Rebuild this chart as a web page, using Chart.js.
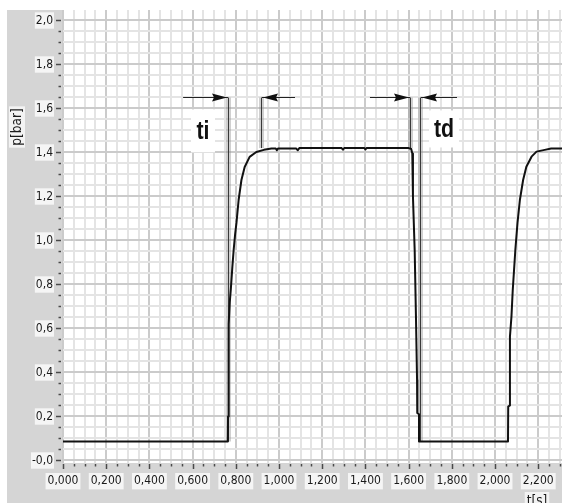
<!DOCTYPE html>
<html>
<head>
<meta charset="utf-8">
<script src="https://cdn.jsdelivr.net/npm/chart.js@4/dist/chart.umd.min.js"></script>
<style>
  html, body { margin: 0; padding: 0; background: #fff; overflow: hidden; }
  canvas { display: block; }
</style>
</head>
<body>
<canvas id="c" width="562" height="503"></canvas>
<script>
// Pressure trace p(t): inflation, plateau, deflation, second inflation
const timeS = [
  0.000, 0.763, 0.764, 0.766, 0.768, 0.772, 0.777, 0.784, 0.790, 0.797,
  0.803, 0.813, 0.826, 0.841, 0.864, 0.895, 0.930, 0.965, 0.985, 0.990,
  0.995, 1.080, 1.087, 1.094, 1.290, 1.296, 1.302, 1.395, 1.400, 1.405,
  1.600, 1.612, 1.617, 1.620, 1.628, 1.634, 1.639, 1.640, 1.648, 1.648,
  2.060, 2.061, 2.068, 2.069, 2.076, 2.082, 2.094, 2.104, 2.115, 2.130,
  2.145, 2.169, 2.192, 2.230, 2.260, 2.315
];
const pressureBar = [
  0.086, 0.086, 0.200, 0.450, 0.620, 0.720, 0.780, 0.880, 0.957, 1.030,
  1.080, 1.184, 1.275, 1.334, 1.380, 1.402, 1.412, 1.418, 1.418, 1.410,
  1.418, 1.418, 1.410, 1.420, 1.420, 1.413, 1.420, 1.420, 1.414, 1.420,
  1.420, 1.416, 1.395, 1.200, 0.957, 0.650, 0.366, 0.216, 0.210, 0.086,
  0.086, 0.245, 0.250, 0.563, 0.654, 0.775, 0.957, 1.080, 1.184, 1.275,
  1.335, 1.381, 1.404, 1.412, 1.418, 1.418
];

// Axis tick labels (every 0.2), minor ticks every 0.05
const xTickLabels = ['0,000','0,200','0,400','0,600','0,800','1,000','1,200','1,400','1,600','1,800','2,000','2,200'];
const yTickLabels = ['-0,0','0,2','0,4','0,6','0,8','1,0','1,2','1,4','1,6','1,8','2,0'];
const majorStep = 0.2;
const minorStep = 0.05;

// Interval markers: ti (rise time) and td (fall time)
const tiBounds = [0.763, 0.917];
const tdBounds = [1.606, 1.653];
const tiArrowTails = [0.556, 1.074];
const tdArrowTails = [1.421, 1.824];
const markerLevel = 1.652;
const plateauLevel = 1.42;
const baseLevel = 0.086;
const tiLabelAt = [0.648, 1.498];
const tdLabelAt = [1.764, 1.507];

const points = timeS.map((t, i) => ({ x: t, y: pressureBar[i] }));

function isMajor(v) {
  const k = v / majorStep;
  return Math.abs(k - Math.round(k)) < 1e-6;
}
function minorValues(from, to) {
  const out = [];
  const n = Math.round((to - from) / minorStep);
  for (let i = 0; i <= n; i++) out.push(+(from + i * minorStep).toFixed(4));
  return out;
}
const xTickValues = minorValues(0, 2.30);
const yTickValues = minorValues(0, 2.0);

const FONT = '"DejaVu Sans Condensed", "DejaVu Sans", sans-serif';

const panelPlugin = {
  id: 'panel',
  beforeDraw(chart) {
    const { ctx, chartArea: a, width, height } = chart;
    ctx.save();
    ctx.fillStyle = '#ffffff';
    ctx.fillRect(0, 0, width, height);
    ctx.fillStyle = '#d5d5d5';
    ctx.fillRect(7, a.top, width - 7, height - a.top);
    ctx.fillStyle = '#ffffff';
    ctx.fillRect(a.left, a.top, a.right - a.left, a.bottom - a.top);
    ctx.restore();
  },
  afterDraw(chart) {
    const { ctx, chartArea: a, scales: { x, y } } = chart;
    ctx.save();
    ctx.strokeStyle = '#4a4a4a';
    ctx.lineWidth = 1.5;
    // y tick marks
    y.ticks.forEach(t => {
      const py = Math.round(y.getPixelForValue(t.value)) + 0.5;
      const len = isMajor(t.value) ? 5 : 2.5;
      ctx.beginPath();
      ctx.moveTo(a.left - 2, py);
      ctx.lineTo(a.left - 2 - len, py);
      ctx.stroke();
    });
    // x tick marks
    x.ticks.forEach(t => {
      const px = Math.round(x.getPixelForValue(t.value)) + 0.5;
      const len = isMajor(t.value) ? 5 : 2.5;
      ctx.beginPath();
      ctx.moveTo(px, a.bottom + 1);
      ctx.lineTo(px, a.bottom + 1 + len);
      ctx.stroke();
    });
    // axis titles
    ctx.font = '13.5px ' + FONT;
    ctx.textAlign = 'center';
    ctx.textBaseline = 'middle';
    // p[bar]
    ctx.save();
    ctx.translate(17, 127);
    ctx.rotate(-Math.PI / 2);
    let w = ctx.measureText('p[bar]').width;
    ctx.fillStyle = 'rgba(255,255,255,0.7)';
    ctx.fillRect(-w / 2 - 2, -8, w + 4, 16);
    ctx.fillStyle = '#1a1a1a';
    ctx.fillText('p[bar]', 0, 0);
    ctx.restore();
    // t[s]
    w = ctx.measureText('t[s]').width;
    ctx.fillStyle = 'rgba(255,255,255,0.7)';
    ctx.fillRect(537 - w / 2 - 2, 492, w + 4, 16);
    ctx.fillStyle = '#1a1a1a';
    ctx.fillText('t[s]', 537, 501);
    ctx.restore();
  }
};

function arrow(ctx, tailX, tipX, py) {
  const dir = tipX > tailX ? 1 : -1;
  ctx.strokeStyle = '#222';
  ctx.lineWidth = 1;
  ctx.beginPath();
  ctx.moveTo(tailX, py);
  ctx.lineTo(tipX, py);
  ctx.stroke();
  ctx.fillStyle = '#111';
  ctx.beginPath();
  ctx.moveTo(tipX - dir * 1, py);
  ctx.lineTo(tipX - dir * 16, py - 4);
  ctx.lineTo(tipX - dir * 14, py);
  ctx.lineTo(tipX - dir * 16, py + 4);
  ctx.closePath();
  ctx.fill();
}

function labelBox(ctx, text, cx, cy, bw, bh) {
  ctx.fillStyle = '#ffffff';
  ctx.fillRect(cx - bw / 2, cy - bh / 2, bw, bh);
  ctx.save();
  ctx.translate(cx, cy);
  ctx.scale(0.82, 1);
  ctx.font = 'bold 26px "Liberation Sans", Arial, sans-serif';
  ctx.textAlign = 'center';
  ctx.textBaseline = 'middle';
  ctx.fillStyle = '#111';
  ctx.fillText(text, 0, 1);
  ctx.restore();
}

const markerPlugin = {
  id: 'markers',
  beforeDatasetsDraw(chart) {
    const { ctx, scales: { x, y } } = chart;
    const yTop = Math.round(y.getPixelForValue(markerLevel)) + 0.5;
    ctx.save();
    // label boxes
    labelBox(ctx, 'ti', x.getPixelForValue(tiLabelAt[0]), y.getPixelForValue(tiLabelAt[1]), 24, 43);
    labelBox(ctx, 'td', x.getPixelForValue(tdLabelAt[0]), y.getPixelForValue(tdLabelAt[1]), 30, 37);
    // vertical marker lines
    const verticals = [
      [tiBounds[0], baseLevel], [tiBounds[1], plateauLevel],
      [tdBounds[0], plateauLevel], [tdBounds[1], baseLevel]
    ];
    verticals.forEach(([t, lvl]) => {
      const px = Math.round(x.getPixelForValue(t)) + 0.5;
      const yb = y.getPixelForValue(lvl);
      ctx.strokeStyle = 'rgba(150,150,150,0.45)';
      ctx.lineWidth = 5;
      ctx.beginPath(); ctx.moveTo(px, yTop); ctx.lineTo(px, yb); ctx.stroke();
      ctx.strokeStyle = '#3a3a3a';
      ctx.lineWidth = 1;
      ctx.beginPath(); ctx.moveTo(px, yTop); ctx.lineTo(px, yb); ctx.stroke();
    });
    // arrows pointing at the interval bounds
    arrow(ctx, x.getPixelForValue(tiArrowTails[0]), Math.round(x.getPixelForValue(tiBounds[0])), yTop);
    arrow(ctx, x.getPixelForValue(tiArrowTails[1]), Math.round(x.getPixelForValue(tiBounds[1])) + 1, yTop);
    arrow(ctx, x.getPixelForValue(tdArrowTails[0]), Math.round(x.getPixelForValue(tdBounds[0])), yTop);
    arrow(ctx, x.getPixelForValue(tdArrowTails[1]), Math.round(x.getPixelForValue(tdBounds[1])) + 1, yTop);
    ctx.restore();
  }
};

const gridColor = c => isMajor(c.tick.value) ? '#cbcbcb' : '#e4e4e4';

new Chart(document.getElementById('c'), {
  type: 'line',
  data: {
    datasets: [{
      data: points,
      borderColor: '#111',
      borderWidth: 2,
      pointRadius: 0,
      tension: 0,
      fill: false,
      borderJoinStyle: 'round'
    }]
  },
  options: {
    responsive: false,
    animation: false,
    devicePixelRatio: 1,
    layout: { padding: { top: 10, left: 0, right: 0, bottom: 0 } },
    plugins: { legend: { display: false }, tooltip: { enabled: false } },
    scales: {
      x: {
        type: 'linear',
        min: 0,
        max: 2.310,
        afterBuildTicks: s => { s.ticks = xTickValues.map(v => ({ value: v })); },
        afterFit: s => { s.height = 40; s.paddingLeft = 0; s.paddingRight = 0; },
        border: { display: false },
        grid: { color: gridColor, lineWidth: 2, drawTicks: false },
        ticks: {
          autoSkip: false,
          maxRotation: 0,
          minRotation: 0,
          padding: 11,
          color: '#1a1a1a',
          font: { family: FONT, size: 12 },
          showLabelBackdrop: c => isMajor(c.tick.value),
          backdropColor: 'rgba(255,255,255,0.75)',
          backdropPadding: { left: 2, right: 2, top: 1, bottom: 1 },
          callback: v => isMajor(v) ? (xTickLabels[Math.round(v / majorStep)] || '') : ''
        }
      },
      y: {
        type: 'linear',
        min: -0.0114,
        max: 2.0477,
        afterBuildTicks: s => { s.ticks = yTickValues.map(v => ({ value: v })); },
        afterFit: s => { s.width = 63; s.paddingTop = 0; s.paddingBottom = 0; },
        border: { display: false },
        grid: { color: gridColor, lineWidth: 2, drawTicks: false },
        ticks: {
          autoSkip: false,
          padding: 10,
          color: '#1a1a1a',
          font: { family: FONT, size: 12 },
          showLabelBackdrop: c => isMajor(c.tick.value),
          backdropColor: 'rgba(255,255,255,0.75)',
          backdropPadding: { left: 1, right: 1, top: 1, bottom: 1 },
          callback: v => isMajor(v) ? (yTickLabels[Math.round(v / majorStep)] || '') : ''
        }
      }
    }
  },
  plugins: [panelPlugin, markerPlugin]
});
</script>
</body>
</html>
